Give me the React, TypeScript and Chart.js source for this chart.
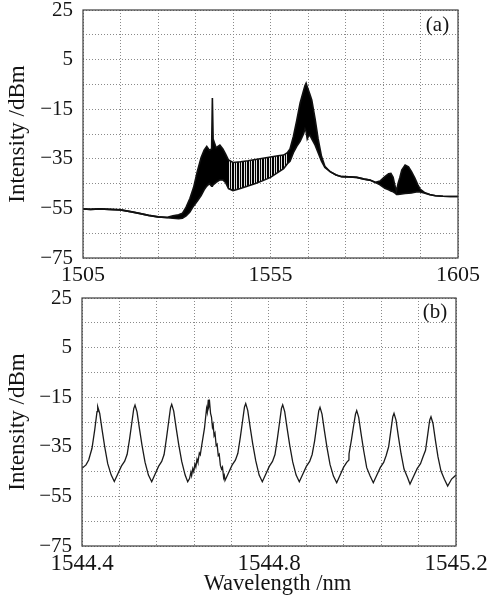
import React, { useEffect, useRef } from 'react';
import { Chart, registerables } from 'chart.js';

Chart.register(...registerables);

const FONT = "'Liberation Serif', 'Times New Roman', serif";
const TEXT = '#141414';
const GRID = '#8a8a8a';

// ---------- panel (a): broad spectrum (upper / lower envelope of the trace) ----------
const aWavelength = [
  1505, 1507, 1509.5, 1512, 1515, 1518, 1520, 1522.5, 1525, 1527.5, 1529, 1530.5, 1531.5,
  1532.5, 1533.5, 1534.5, 1535.5, 1536.5, 1537.3, 1538.0, 1538.7, 1539.3, 1539.5, 1539.7,
  1540.5, 1541.5, 1542.3, 1543.0, 1543.8, 1545, 1547, 1549, 1551, 1553, 1555, 1557, 1558.5,
  1559.5, 1560.2, 1561.1, 1562.0, 1562.9, 1563.8, 1564.2, 1564.5, 1564.8, 1565.1, 1565.5,
  1566.0, 1566.9, 1567.7, 1568.6, 1569.5, 1570.9, 1572.5, 1574, 1576, 1578, 1580, 1581.5,
  1583, 1584.2, 1585.5, 1586.5, 1587.1, 1587.7, 1588.2, 1588.6, 1589.0, 1589.5, 1590.0,
  1590.9, 1591.8, 1592.6, 1593.5, 1594.3, 1594.9, 1596.2, 1597.5, 1599, 1601, 1603, 1605,
];
const aUpper = [
  -55.2, -55.4, -55.2, -55.4, -55.6, -56.4, -57.0, -57.8, -58.4, -58.6, -58.0, -57.6, -57.0,
  -54.5, -51.0, -46.5, -40.0, -34.5, -31.5, -30.0, -31.5, -31.0, -10.5, -27.0,
  -30.5, -29.5, -31.0, -33.0, -35.5, -36.5, -36.2, -35.8, -35.3, -34.8, -34.3, -33.8, -33.5,
  -32.5, -31.0, -26.0, -19.5, -12.5, -7.5, -5.5, -4.5, -6.0, -7.3, -9.0,
  -11.3, -19.0, -27.0, -34.0, -38.0, -40.2, -41.5, -42.2, -42.3, -42.5, -43.2, -43.6,
  -44.5, -44.0, -42.2, -41.0, -40.9, -42.5, -46.0, -48.0, -45.0, -42.5, -39.5,
  -37.5, -38.2, -40.2, -42.8, -45.5, -47.2, -48.7, -49.4, -49.9, -50.1, -50.2, -50.2,
];
const aLower = [
  -55.2, -55.4, -55.2, -55.4, -55.6, -56.4, -57.0, -57.8, -58.4, -58.8, -59.0, -59.2, -59.0,
  -58.0, -56.5, -54.0, -52.0, -49.8, -47.5, -46.0, -45.0, -46.0, -46.0, -45.5,
  -44.5, -43.5, -43.5, -44.5, -47.0, -47.8, -47.0, -46.0, -45.0, -43.8, -42.5, -40.5, -39.0,
  -37.0, -36.0, -32.5, -30.0, -28.0, -25.0, -23.0, -24.0, -27.0, -26.0, -25.5,
  -27.0, -29.5, -32.5, -36.0, -38.5, -40.2, -41.5, -42.2, -42.3, -42.5, -43.2, -43.6,
  -44.6, -45.5, -46.9, -47.5, -48.0, -48.3, -48.8, -49.4, -49.4, -49.3, -49.2,
  -49.0, -48.9, -48.8, -48.5, -48.3, -48.4, -48.9, -49.5, -49.9, -50.1, -50.2, -50.2,
];
// wavelength range where the comb is resolved into separate stripes
const aStripeRange = [1543.8, 1559.5];
const aXTicks = [1505, 1515, 1525, 1535, 1545, 1555, 1565, 1575, 1585, 1595, 1605];
const aXLabels = ['1505', '', '', '', '', '1555', '', '', '', '', '1605'];

// ---------- panel (b): zoomed comb ----------
const bWavelength = [
  1544.4, 1544.4086, 1544.4143, 1544.4214, 1544.4272, 1544.4321, 1544.4336,
  1544.4379, 1544.443, 1544.4486, 1544.455, 1544.4623,
  1544.4691, 1544.4775, 1544.4842, 1544.4913, 1544.4966, 1544.5019, 1544.5068, 1544.5107, 1544.5134,
  1544.5177, 1544.5228, 1544.5284, 1544.5348, 1544.5421,
  1544.5491, 1544.5572, 1544.5637, 1544.5705, 1544.5756, 1544.5808, 1544.5855, 1544.5893, 1544.5919,
  1544.5962, 1544.6013, 1544.6069, 1544.6133, 1544.6206,
  1544.6261, 1544.63, 1544.633, 1544.6345, 1544.637, 1544.639, 1544.6415, 1544.6435, 1544.646, 1544.648,
  1544.651, 1544.653, 1544.656, 1544.659, 1544.662, 1544.6645, 1544.6665, 1544.668, 1544.6702, 1544.6715,
  1544.673, 1544.675, 1544.677, 1544.679, 1544.6805, 1544.6825, 1544.6845, 1544.687, 1544.689, 1544.6915,
  1544.6935, 1544.696, 1544.6985, 1544.7005, 1544.703, 1544.7045,
  1544.7059, 1544.7143, 1544.721, 1544.7281, 1544.7334, 1544.7387, 1544.7436, 1544.7475, 1544.7502,
  1544.7545, 1544.7596, 1544.7652, 1544.7716, 1544.7789,
  1544.7857, 1544.794, 1544.8006, 1544.8075, 1544.8128, 1544.818, 1544.8228, 1544.8266, 1544.8293,
  1544.8336, 1544.8387, 1544.8443, 1544.8507, 1544.858,
  1544.8648, 1544.8732, 1544.8799, 1544.887, 1544.8923, 1544.8976, 1544.9025, 1544.9064, 1544.9091,
  1544.9134, 1544.9185, 1544.9241, 1544.9305, 1544.9378,
  1544.9448, 1544.9529, 1544.9594, 1544.9662, 1544.971, 1544.9712, 1544.9765, 1544.9812, 1544.985, 1544.9876,
  1544.9919, 1544.997, 1545.0026, 1545.009, 1545.0163,
  1545.0231, 1545.0315, 1545.0382, 1545.0453, 1545.0506, 1545.0559, 1545.0608, 1545.0647, 1545.0674,
  1545.0717, 1545.0768, 1545.0824, 1545.0888, 1545.0961,
  1545.1016, 1545.1101, 1545.1169, 1545.1241, 1545.1295, 1545.1348, 1545.1398, 1545.1437, 1545.1465,
  1545.1508, 1545.1559, 1545.1615, 1545.1679, 1545.1752,
  1545.1822, 1545.1906, 1545.2,
];
const bIntensity = [
  -43.7, -42.3, -40.3, -35.6, -28.2, -20.8, -18.8,
  -21.5, -28.2, -35.0, -41.8, -46.3,
  -49.0, -45.6, -42.8, -40.8, -38.0, -31.7, -25.0, -19.6, -18.2,
  -20.9, -27.6, -34.4, -41.2, -46.4,
  -49.1, -45.7, -42.9, -40.9, -38.1, -31.4, -24.7, -19.3, -17.9,
  -20.6, -27.3, -34.1, -40.9, -46.4,
  -49.1, -47.8, -45.2, -46.6, -43.8, -45.0, -42.0, -43.2, -40.0, -41.2,
  -37.5, -38.2, -34.5, -31.0, -27.5, -23.0, -19.5, -21.0, -16.0, -18.5,
  -17.2, -21.5, -23.0, -27.0, -26.0, -30.5, -29.5, -34.5, -34.0, -38.5,
  -38.0, -42.5, -44.0, -43.2, -47.5, -46.6,
  -48.6, -45.2, -42.4, -40.4, -37.6, -31.1, -24.4, -19.0, -17.6,
  -20.3, -27.0, -33.8, -40.6, -46.4,
  -49.1, -45.7, -42.9, -40.9, -38.1, -31.6, -24.9, -19.5, -18.1,
  -20.8, -27.5, -34.3, -41.1, -46.4,
  -49.1, -45.7, -42.9, -40.9, -38.1, -32.6, -25.9, -20.5, -19.1,
  -21.8, -28.5, -35.3, -42.1, -46.8,
  -49.5, -46.1, -43.3, -41.3, -40.3, -37.8, -32.0, -26.2, -21.8, -20.4,
  -23.1, -29.8, -36.6, -43.4, -46.8,
  -49.5, -46.1, -43.3, -41.3, -38.5, -35.0, -28.3, -22.9, -21.5,
  -24.2, -30.9, -37.7, -44.0, -47.3,
  -50.0, -46.6, -43.8, -41.8, -39.0, -36.4, -29.7, -24.3, -22.9,
  -25.6, -32.3, -39.1, -44.8, -48.1,
  -50.8, -48.0, -46.4,
];
const bXTicks = [1544.4, 1544.48, 1544.56, 1544.64, 1544.72, 1544.8, 1544.88, 1544.96, 1545.04, 1545.12, 1545.2];
const bXLabels = ['1544.4', '', '', '', '', '1544.8', '', '', '', '', '1545.2'];

// ---------- shared y axis ----------
const yTicks = [-75, -65, -55, -45, -35, -25, -15, -5, 5, 15, 25];
const yLabels = ['\u221275', '', '\u221255', '', '\u221235', '', '\u221215', '', '5', '', '25'];
const yTitle = 'Intensity /dBm';
const xTitle = 'Wavelength /nm';

const framePlugin = {
  id: 'frame',
  afterDraw(chart: any, _args: any, opts: any) {
    const { ctx, chartArea: a } = chart;
    ctx.save();
    ctx.strokeStyle = '#3c3c3c';
    ctx.lineWidth = 1.2;
    ctx.strokeRect(a.left, a.top, a.right - a.left, a.bottom - a.top);
    ctx.font = `21px ${FONT}`;
    ctx.fillStyle = TEXT;
    ctx.textAlign = 'center';
    ctx.textBaseline = 'middle';
    ctx.fillText(opts.label, a.right - opts.dx, a.top + opts.dy);
    ctx.restore();
  },
};

function stripeFill(context: any) {
  const chart = context.chart;
  const x = chart.scales && chart.scales.x;
  if (!chart.chartArea || !x) return '#000';
  const off = document.createElement('canvas');
  off.width = chart.width;
  off.height = 2;
  const c = off.getContext('2d')!;
  c.fillStyle = '#000';
  c.fillRect(0, 0, off.width, 2);
  const x0 = Math.round(x.getPixelForValue(aStripeRange[0]));
  const x1 = Math.round(x.getPixelForValue(aStripeRange[1]));
  c.fillStyle = '#e0e0e0';
  for (let px = x0; px < x1; px += 5) {
    c.fillRect(px + 1, 0, 1, 2);
    c.fillRect(px + 3, 0, 1, 2);
  }
  return chart.ctx.createPattern(off, 'repeat');
}

function yScale(width: number) {
  return {
    type: 'linear',
    min: -75,
    max: 25,
    afterBuildTicks: (s: any) => {
      s.ticks = yTicks.map((v) => ({ value: v }));
    },
    afterFit: (s: any) => {
      s.width = width;
      s.paddingTop = 0;
      s.paddingBottom = 0;
    },
    ticks: {
      autoSkip: false,
      padding: 10,
      color: TEXT,
      font: { family: FONT, size: 21, lineHeight: 1 },
      callback: (_v: any, i: number) => yLabels[i],
    },
    grid: { color: GRID, lineWidth: 1, drawTicks: false },
    border: { display: false, dash: [1, 2] },
    title: {
      display: true,
      text: yTitle,
      color: TEXT,
      font: { family: FONT, size: 23, lineHeight: 1.2 },
      padding: { top: 4, bottom: 0 },
    },
  };
}

function xScale(min: number, max: number, ticks: number[], labels: string[], height: number, size: number, title: boolean) {
  return {
    type: 'linear',
    min,
    max,
    afterBuildTicks: (s: any) => {
      s.ticks = ticks.map((v) => ({ value: v }));
    },
    afterFit: (s: any) => {
      s.height = height;
      s.paddingLeft = 0;
      s.paddingRight = 0;
    },
    ticks: {
      autoSkip: false,
      maxRotation: 0,
      padding: 6.5,
      color: TEXT,
      font: { family: FONT, size, lineHeight: 1 },
      callback: (_v: any, i: number) => labels[i],
    },
    grid: { color: GRID, lineWidth: 1, drawTicks: false },
    border: { display: false, dash: [1, 2] },
    title: {
      display: title,
      text: '\u00a0\u00a0\u00a0' + xTitle,
      color: TEXT,
      font: { family: FONT, size: 22.5, lineHeight: 1.2 },
      padding: { top: 0, bottom: 2 },
    },
  };
}

function makeTop(): any {
  return {
    type: 'line',
    data: {
      datasets: [
        {
          data: aWavelength.map((x, i) => ({ x, y: aUpper[i] })),
          borderColor: '#111',
          borderWidth: 1.6,
          pointRadius: 0,
          fill: false,
        },
        {
          data: aWavelength.map((x, i) => ({ x, y: aLower[i] })),
          borderColor: '#111',
          borderWidth: 1.6,
          pointRadius: 0,
          fill: '-1',
          backgroundColor: stripeFill,
        },
      ],
    },
    options: {
      responsive: false,
      animation: false,
      events: [],
      layout: { padding: { left: 0, right: 36, top: 10, bottom: 0 } },
      plugins: { legend: { display: false }, tooltip: { enabled: false }, frame: { label: '(a)', dx: 20.5, dy: 15.5 } },
      scales: {
        x: xScale(1505, 1605, aXTicks, aXLabels, 32, 22, false),
        y: yScale(83),
      },
    },
    plugins: [framePlugin],
  };
}

function makeBottom(): any {
  return {
    type: 'line',
    data: {
      datasets: [
        {
          data: bWavelength.map((x, i) => ({ x, y: bIntensity[i] })),
          borderColor: '#1a1a1a',
          borderWidth: 1.3,
          pointRadius: 0,
          fill: false,
        },
      ],
    },
    options: {
      responsive: false,
      animation: false,
      events: [],
      layout: { padding: { left: 0, right: 38, top: 8, bottom: 0 } },
      plugins: { legend: { display: false }, tooltip: { enabled: false }, frame: { label: '(b)', dx: 21, dy: 14.7 } },
      scales: {
        x: xScale(1544.4, 1545.2, bXTicks, bXLabels, 54, 23, true),
        y: yScale(82),
      },
    },
    plugins: [framePlugin],
  };
}

function ChartCanvas({ width, height, top, make }: { width: number; height: number; top: number; make: () => any }) {
  const ref = useRef<HTMLCanvasElement>(null);
  useEffect(() => {
    const chart = new Chart(ref.current as HTMLCanvasElement, make());
    return () => chart.destroy();
  }, []);
  return (
    <div style={{ position: 'absolute', left: 0, top, width, height }}>
      <canvas ref={ref} width={width} height={height} style={{ display: 'block', width, height }} />
    </div>
  );
}

export default function App() {
  return (
    <div style={{ position: 'absolute', left: 0, top: 0, width: 494, height: 600, background: '#fff' }}>
      <ChartCanvas width={494} height={290} top={0} make={makeTop} />
      <ChartCanvas width={494} height={310} top={290} make={makeBottom} />
    </div>
  );
}
